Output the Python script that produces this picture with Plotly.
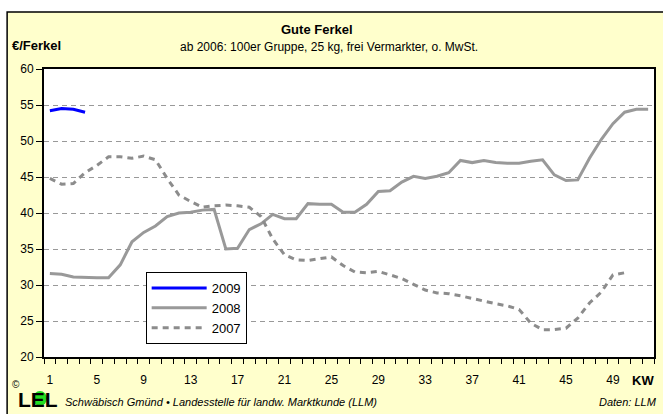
import plotly.graph_objects as go

# Gute Ferkel, price per piglet by calendar week (KW)
weeks = list(range(1, 53))
week_labels = ["1", "5", "9", "13", "17", "21", "25", "29", "33", "37", "41", "45", "49"]
y_ticks = [20, 25, 30, 35, 40, 45, 50, 55, 60]

prices_2009 = [54.2, 54.5, 54.4, 54.0]

prices_2008 = [31.6, 31.5, 31.1, 31.0, 31.0, 31.0, 32.8, 36.0, 37.3, 38.2,
               39.5, 40.0, 40.1, 40.4, 40.5, 35.0, 35.1, 37.7, 38.5, 39.8,
               39.2, 39.2, 41.3, 41.2, 41.2, 40.1, 40.1, 41.2, 43.0, 43.1,
               44.3, 45.1, 44.8, 45.1, 45.6, 47.3, 47.0, 47.3, 47.0, 46.9,
               46.9, 47.2, 47.4, 45.3, 44.5, 44.6, 47.6, 50.2, 52.4, 54.0,
               54.4, 54.4]

prices_2007 = [44.8, 44.0, 44.1, 45.6, 46.6, 47.8, 47.8, 47.6, 47.9, 47.4,
               44.8, 42.5, 41.6, 40.8, 41.0, 41.1, 41.0, 40.8, 39.5, 36.4,
               34.2, 33.5, 33.4, 33.6, 33.9, 32.7, 31.8, 31.7, 31.9, 31.4,
               30.9, 30.1, 29.3, 28.9, 28.8, 28.5, 28.1, 27.7, 27.4, 27.1,
               26.6, 24.7, 23.8, 23.8, 24.0, 25.4, 27.5, 29.0, 31.4, 31.7]

W, H = 663, 414
L, R, T, B = 44, 7, 69, 57
FONT = "Liberation Sans, Arial, sans-serif"


# pixel position -> paper coordinates
def px(x):
  return (x - L) / (W - L - R)

def py(y):
  return (H - B - y) / (H - T - B)


def build_figure():
  fig = go.Figure()

  fig.add_trace(go.Scatter(
    x = weeks[:len(prices_2009)], y = prices_2009, name = "2009",
    mode = "lines", line = dict(color = "#0000ff", width = 3),
  ))
  fig.add_trace(go.Scatter(
    x = weeks[:len(prices_2008)], y = prices_2008, name = "2008",
    mode = "lines", line = dict(color = "#999999", width = 3),
  ))
  fig.add_trace(go.Scatter(
    x = weeks[:len(prices_2007)], y = prices_2007, name = "2007",
    mode = "lines", line = dict(color = "#8c8c8c", width = 3, dash = "6px,5px"),
  ))
  # invisible trace carrying the week labels on a second x axis
  fig.add_trace(go.Scatter(
    x = [weeks[0], weeks[-1]], y = [None, None], xaxis = "x2",
    showlegend = False, hoverinfo = "skip",
  ))

  boundaries = [w - 0.5 for w in weeks] + [weeks[-1] + 0.5]
  xrange = [boundaries[0], boundaries[-1]]

  fig.update_layout(
    width = W, height = H,
    margin = dict(l = L, r = R, t = T, b = B),
    paper_bgcolor = "white",
    plot_bgcolor = "white",
    font = dict(family = FONT, size = 12, color = "black"),
    xaxis = dict(
      range = xrange, tickvals = boundaries, ticktext = [""] * len(boundaries),
      ticks = "outside", ticklen = 5, tickwidth = 1, tickcolor = "black",
      showgrid = False, zeroline = False,
      showline = True, linecolor = "black", linewidth = 2, mirror = True,
    ),
    xaxis2 = dict(
      overlaying = "x", side = "bottom", range = xrange,
      tickvals = [int(t) for t in week_labels], ticktext = week_labels,
      ticks = "outside", ticklen = 12, tickcolor = "rgba(0,0,0,0)",
      showgrid = False, zeroline = False, showline = False,
      tickfont = dict(size = 12),
    ),
    yaxis = dict(
      range = [y_ticks[0], y_ticks[-1]], tickvals = y_ticks,
      ticks = "outside", ticklen = 6, tickwidth = 1, tickcolor = "black",
      showgrid = True, gridcolor = "#999999", gridwidth = 1, griddash = "5px,4px",
      zeroline = False,
      showline = True, linecolor = "black", linewidth = 2, mirror = True,
      tickfont = dict(size = 12),
    ),
    legend = dict(
      x = px(146), y = py(272), xanchor = "left", yanchor = "top",
      bgcolor = "white", bordercolor = "black", borderwidth = 1,
      font = dict(size = 13), tracegroupgap = 0,
      itemwidth = 55, entrywidth = 100,
    ),
    showlegend = True,
  )

  # light yellow card behind everything
  fig.add_shape(
    type = "rect", xref = "paper", yref = "paper", layer = "below",
    x0 = px(7), x1 = px(675), y0 = py(430), y1 = py(12),
    fillcolor = "#ffffcc", line = dict(color = "black", width = 1.5),
  )
  # white plot area on top of the card
  fig.add_shape(
    type = "rect", xref = "paper", yref = "paper", layer = "below",
    x0 = 0, x1 = 1, y0 = 0, y1 = 1,
    fillcolor = "white", line = dict(width = 0),
  )
  # green dot of the LEL logo
  fig.add_shape(
    type = "circle", xref = "paper", yref = "paper", layer = "below",
    x0 = px(33), x1 = px(47), y0 = py(406), y1 = py(391),
    fillcolor = "#22dd22", line = dict(width = 0),
  )

  notes = [
    dict(text = "<b>Gute Ferkel</b>", x = px(318), y = py(30), size = 13, xanchor = "center"),
    dict(text = "ab 2006: 100er Gruppe, 25 kg, frei Vermarkter, o. MwSt.", x = px(330), y = py(47), size = 12, xanchor = "center"),
    dict(text = "<b>€/Ferkel</b>", x = px(10), y = py(46), size = 13, xanchor = "left"),
    dict(text = "<b>KW</b>", x = px(645), y = py(380), size = 13, xanchor = "center"),
    dict(text = "©", x = px(10), y = py(384), size = 10, xanchor = "left"),
    dict(text = "<b>LEL</b>", x = px(16), y = py(399), size = 21, xanchor = "left"),
    dict(text = "<i>Schwäbisch Gmünd • Landesstelle für landw. Marktkunde (LLM)</i>", x = px(63), y = py(402), size = 11, xanchor = "left"),
    dict(text = "<i>Daten: LLM</i>", x = px(661), y = py(402), size = 11, xanchor = "right"),
  ]
  for n in notes:
    fig.add_annotation(
      text = n["text"], x = n["x"], y = n["y"], xref = "paper", yref = "paper",
      xanchor = n["xanchor"], yanchor = "middle", showarrow = False,
      font = dict(family = FONT, size = n["size"], color = "black"),
    )

  return fig


def main():
  fig = build_figure()
  # drop the browser's default 8px body margin so the figure fills the window
  fig.write_html(
    "out.html",
    config = {"displayModeBar": False},
    post_script = "document.body.style.margin = '0';",
  )


if __name__ == "__main__":
  main()
